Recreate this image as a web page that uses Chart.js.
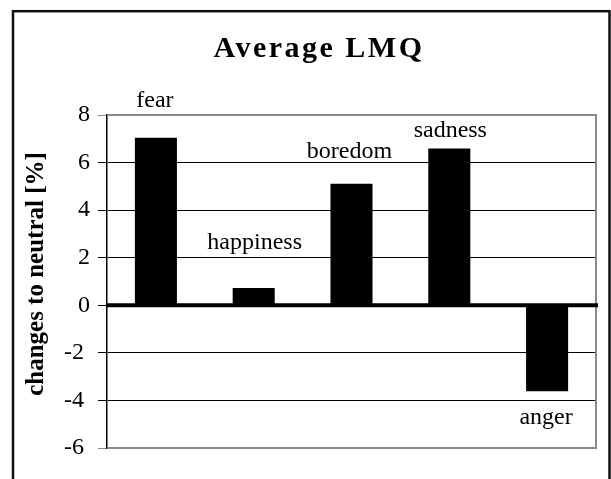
<!DOCTYPE html>
<html>
<head>
<meta charset="utf-8">
<script src="https://cdn.jsdelivr.net/npm/chart.js@4/dist/chart.umd.min.js"></script>
<style>
  html, body { margin: 0; padding: 0; background: #fff; }
  canvas { display: block; }
</style>
</head>
<body>
<canvas id="c" width="611" height="479"></canvas>
<script>
// ---- data ----
const chartTitle = 'Average LMQ';
const axisTitle = 'changes to neutral [%]';
const categories = ['fear', 'happiness', 'boredom', 'sadness', 'anger'];
const values = [7.04, 0.73, 5.11, 6.59, -3.61];
const tickValues = [-6, -4, -2, 0, 2, 4, 6, 8];

const SERIF = '"Liberation Serif", "Times New Roman", serif';

const decorPlugin = {
  id: 'decor',
  beforeDraw(chart) {
    const ctx = chart.ctx;
    ctx.save();
    ctx.fillStyle = '#fff';
    ctx.fillRect(0, 0, chart.width, chart.height);
    ctx.strokeStyle = '#111';
    ctx.lineWidth = 2.5;
    ctx.strokeRect(13, 11.2, 596.5, 480);
    ctx.restore();
  },
  beforeDatasetsDraw(chart) {
    const { ctx, chartArea: a } = chart;
    ctx.save();
    ctx.strokeStyle = '#8a8a8a';
    ctx.lineWidth = 2;
    ctx.beginPath();
    ctx.moveTo(a.left, a.top);
    ctx.lineTo(a.right, a.top);
    ctx.lineTo(a.right, a.bottom);
    ctx.lineTo(a.left, a.bottom);
    ctx.stroke();
    ctx.restore();
  },
  afterDatasetsDraw(chart, args, opts) {
    const { ctx, chartArea: a } = chart;
    const y = chart.scales.y;
    ctx.save();
    // zero line
    const y0 = y.getPixelForValue(0);
    ctx.strokeStyle = '#000';
    ctx.lineWidth = 4;
    ctx.beginPath();
    ctx.moveTo(a.left, y0);
    ctx.lineTo(a.right + 2, y0);
    ctx.stroke();

    // category labels near bar ends
    const meta = chart.getDatasetMeta(0);
    ctx.fillStyle = '#000';
    ctx.font = '24px ' + SERIF;
    ctx.textAlign = 'center';
    ctx.textBaseline = 'alphabetic';
    meta.data.forEach((bar, i) => {
      const off = opts.labelOffsets[i] || { dx: 0, dy: 0 };
      ctx.fillText(chart.data.labels[i], bar.x + off.dx, bar.y + off.dy);
    });

    // y axis title
    ctx.save();
    ctx.font = 'bold 25px ' + SERIF;
    ctx.textAlign = 'center';
    ctx.textBaseline = 'middle';
    ctx.translate(37, 274);
    ctx.rotate(-Math.PI / 2);
    ctx.fillText(axisTitle, 0, 0);
    ctx.restore();

    // chart title
    ctx.font = 'bold 30px ' + SERIF;
    ctx.letterSpacing = '2.5px';
    ctx.textAlign = 'center';
    ctx.textBaseline = 'alphabetic';
    ctx.fillText(chartTitle, 319, 57);
    ctx.restore();
  }
};

new Chart(document.getElementById('c'), {
  type: 'bar',
  data: {
    labels: categories,
    datasets: [{
      data: values,
      backgroundColor: '#000',
      borderWidth: 0,
      barPercentage: 0.43,
      categoryPercentage: 1.0
    }]
  },
  options: {
    responsive: false,
    animation: false,
    devicePixelRatio: 1,
    layout: { padding: { left: 0, top: 115, right: 15, bottom: 31 } },
    plugins: {
      legend: { display: false },
      title: { display: false },
      tooltip: { enabled: false },
      decor: {
        labelOffsets: [
          { dx: -1, dy: -31 },
          { dx: 1, dy: -39 },
          { dx: -2, dy: -26 },
          { dx: 1, dy: -12 },
          { dx: -1, dy: 33 }
        ]
      }
    },
    scales: {
      x: { display: false },
      y: {
        min: -6,
        max: 8,
        afterBuildTicks(scale) {
          scale.ticks = tickValues.map(v => ({ value: v }));
        },
        afterFit(scale) { scale.width = 107; },
        border: { display: true, color: '#000', width: 1.5 },
        grid: {
          drawOnChartArea: true,
          drawTicks: true,
          tickLength: 9,
          tickWidth: 1,
          lineWidth: 1,
          color(ctx) {
            const v = ctx.tick && ctx.tick.value;
            return (v === 8 || v === -6) ? '#8a8a8a' : '#000';
          },
          tickColor(ctx) {
            const v = ctx.tick && ctx.tick.value;
            return (v === 8 || v === -6) ? '#8a8a8a' : '#000';
          }
        },
        ticks: {
          padding: 8,
          color: '#000',
          font: { family: SERIF, size: 24 },
          callback(v) { return v < 0 ? String(v) + ' ' : String(v); }
        }
      }
    }
  },
  plugins: [decorPlugin]
});
</script>
</body>
</html>
